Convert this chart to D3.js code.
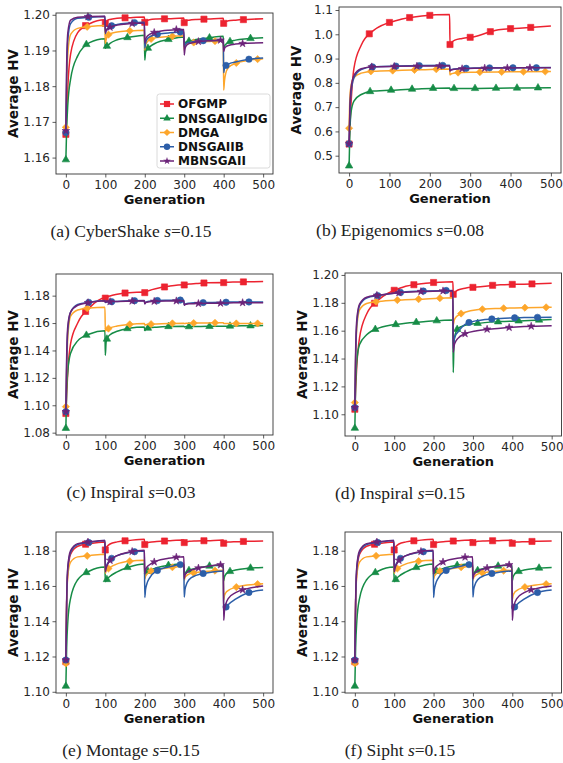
<!DOCTYPE html>
<html>
<head>
<meta charset="utf-8">
<script src="https://cdn.jsdelivr.net/npm/d3@7"></script>
<style>
	body { margin: 0; background: #fff; }
</style>
</head>
<body>
<div class="charts"></div>
<script>
var names = ['OFGMP', 'DNSGAIIgIDG', 'DMGA', 'DNSGAIIB', 'MBNSGAII'];
var colors = ['#ec2330', '#168c46', '#fda62b', '#2c5ea8', '#6b2379'];
var markEvery = [50, 52, 54, 58, 56];
var genTicks = [0, 100, 200, 300, 400, 500];

// generations the curves were read at (environment change every 100 gens)
var gens100 = [0, 2, 5, 12, 30, 60, 99, 100, 102, 105, 112, 130, 160, 199,
	200, 202, 205, 212, 230, 260, 299, 300, 302, 305, 312, 330, 360, 399,
	400, 402, 405, 412, 430, 460, 500];
// one change at gen 250
var gens250 = [0, 2, 5, 12, 30, 60, 120, 180, 249, 250, 252, 255, 262, 280, 310, 370, 430, 500];

// (a) CyberShake s=0.15
var cyberTicks = [1.16, 1.17, 1.18, 1.19, 1.20];
var cyberOFGMP = [1.1665, 1.1720, 1.1800, 1.1890, 1.1950, 1.1975, 1.1986, 1.1976, 1.1980, 1.1984, 1.1987, 1.1990, 1.1992, 1.1994,
	1.1979, 1.1982, 1.1984, 1.1986, 1.1988, 1.1989, 1.1991, 1.1978, 1.1981, 1.1983, 1.1985, 1.1987, 1.1988, 1.1990,
	1.1976, 1.1979, 1.1981, 1.1983, 1.1985, 1.1987, 1.1989];
var cyberGIDG = [1.1594, 1.1680, 1.1750, 1.1820, 1.1885, 1.1922, 1.1933, 1.1906, 1.1910, 1.1913, 1.1920, 1.1930, 1.1937, 1.1943,
	1.1873, 1.1895, 1.1902, 1.1910, 1.1922, 1.1931, 1.1938, 1.1920, 1.1922, 1.1924, 1.1926, 1.1931, 1.1935, 1.1940,
	1.1905, 1.1912, 1.1917, 1.1923, 1.1929, 1.1933, 1.1936];
var cyberDMGA = [1.1685, 1.1800, 1.1890, 1.1945, 1.1962, 1.1967, 1.1970, 1.1920, 1.1930, 1.1940, 1.1947, 1.1952, 1.1955, 1.1957,
	1.1901, 1.1915, 1.1922, 1.1930, 1.1936, 1.1939, 1.1941, 1.1900, 1.1912, 1.1917, 1.1920, 1.1923, 1.1925, 1.1927,
	1.1789, 1.1815, 1.1835, 1.1852, 1.1864, 1.1872, 1.1877];
var cyberB = [1.1670, 1.1830, 1.1930, 1.1975, 1.1990, 1.1993, 1.1995, 1.1947, 1.1955, 1.1961, 1.1967, 1.1973, 1.1977, 1.1979,
	1.1906, 1.1920, 1.1930, 1.1938, 1.1945, 1.1949, 1.1952, 1.1910, 1.1915, 1.1920, 1.1923, 1.1926, 1.1928, 1.1929,
	1.1838, 1.1850, 1.1857, 1.1862, 1.1868, 1.1875, 1.1879];
var cyberMB = [1.1675, 1.1860, 1.1950, 1.1985, 1.1993, 1.1995, 1.1996, 1.1950, 1.1956, 1.1960, 1.1965, 1.1971, 1.1975, 1.1977,
	1.1920, 1.1930, 1.1938, 1.1945, 1.1952, 1.1957, 1.1959, 1.1887, 1.1905, 1.1913, 1.1919, 1.1924, 1.1927, 1.1929,
	1.1897, 1.1905, 1.1910, 1.1914, 1.1918, 1.1920, 1.1922];

// (b) Epigenomics s=0.08
var epiTicks = [0.5, 0.6, 0.7, 0.8, 0.9, 1.0, 1.1];
var epiOFGMP = [0.548, 0.620, 0.720, 0.860, 0.955, 1.015, 1.058, 1.075, 1.081, 0.958, 0.962, 0.968, 0.976, 0.983, 0.990, 1.019, 1.026, 1.034];
var epiGIDG = [0.458, 0.600, 0.680, 0.725, 0.752, 0.766, 0.771, 0.776, 0.779, 0.774, 0.775, 0.776, 0.777, 0.777, 0.777, 0.778, 0.779, 0.780];
var epiDMGA = [0.613, 0.740, 0.790, 0.822, 0.840, 0.848, 0.851, 0.854, 0.857, 0.833, 0.836, 0.838, 0.841, 0.843, 0.844, 0.845, 0.846, 0.847];
var epiB = [0.549, 0.680, 0.760, 0.820, 0.855, 0.866, 0.869, 0.871, 0.872, 0.850, 0.853, 0.855, 0.857, 0.859, 0.861, 0.862, 0.862, 0.863];
var epiMB = [0.549, 0.700, 0.780, 0.830, 0.858, 0.866, 0.868, 0.869, 0.870, 0.849, 0.852, 0.854, 0.856, 0.858, 0.860, 0.861, 0.862, 0.862];

// (c) Inspiral s=0.03
var insp3Ticks = [1.08, 1.10, 1.12, 1.14, 1.16, 1.18];
var insp3OFGMP = [1.0940, 1.1080, 1.1250, 1.1450, 1.1600, 1.1712, 1.1782, 1.1782, 1.1785, 1.1790, 1.1798, 1.1810, 1.1822, 1.1826,
	1.1822, 1.1825, 1.1830, 1.1838, 1.1852, 1.1868, 1.1880, 1.1878, 1.1880, 1.1882, 1.1885, 1.1888, 1.1894, 1.1896,
	1.1895, 1.1896, 1.1897, 1.1898, 1.1899, 1.1901, 1.1903];
var insp3GIDG = [1.0832, 1.1100, 1.1250, 1.1380, 1.1470, 1.1520, 1.1543, 1.1365, 1.1460, 1.1490, 1.1515, 1.1540, 1.1562, 1.1572,
	1.1545, 1.1555, 1.1560, 1.1565, 1.1570, 1.1575, 1.1577, 1.1572, 1.1573, 1.1574, 1.1574, 1.1575, 1.1576, 1.1577,
	1.1576, 1.1577, 1.1577, 1.1578, 1.1579, 1.1580, 1.1582];
var insp3DMGA = [1.0990, 1.1250, 1.1500, 1.1650, 1.1695, 1.1710, 1.1715, 1.1540, 1.1550, 1.1555, 1.1565, 1.1578, 1.1590, 1.1596,
	1.1585, 1.1587, 1.1589, 1.1591, 1.1594, 1.1597, 1.1599, 1.1596, 1.1597, 1.1598, 1.1599, 1.1600, 1.1601, 1.1602,
	1.1597, 1.1597, 1.1597, 1.1597, 1.1597, 1.1597, 1.1597];
var insp3B = [1.0953, 1.1300, 1.1550, 1.1680, 1.1735, 1.1752, 1.1765, 1.1750, 1.1752, 1.1753, 1.1755, 1.1758, 1.1762, 1.1764,
	1.1742, 1.1750, 1.1755, 1.1760, 1.1764, 1.1766, 1.1768, 1.1733, 1.1738, 1.1742, 1.1745, 1.1748, 1.1750, 1.1752,
	1.1750, 1.1751, 1.1752, 1.1753, 1.1754, 1.1754, 1.1754];
var insp3MB = [1.0953, 1.1350, 1.1580, 1.1680, 1.1730, 1.1750, 1.1762, 1.1752, 1.1754, 1.1755, 1.1756, 1.1758, 1.1760, 1.1762,
	1.1740, 1.1748, 1.1752, 1.1756, 1.1759, 1.1761, 1.1762, 1.1730, 1.1734, 1.1737, 1.1740, 1.1742, 1.1744, 1.1745,
	1.1744, 1.1745, 1.1746, 1.1747, 1.1748, 1.1749, 1.1749];

// (d) Inspiral s=0.15
var insp15Ticks = [1.10, 1.12, 1.14, 1.16, 1.18, 1.20];
var insp15OFGMP = [1.1036, 1.1180, 1.1350, 1.1550, 1.1720, 1.1820, 1.1910, 1.1940, 1.1952, 1.1861, 1.1868, 1.1878, 1.1892, 1.1905, 1.1913, 1.1930, 1.1934, 1.1940];
var insp15GIDG = [1.0900, 1.1200, 1.1380, 1.1500, 1.1570, 1.1618, 1.1650, 1.1665, 1.1677, 1.1299, 1.1520, 1.1575, 1.1615, 1.1638, 1.1652, 1.1665, 1.1672, 1.1681];
var insp15DMGA = [1.1084, 1.1400, 1.1620, 1.1750, 1.1795, 1.1810, 1.1821, 1.1828, 1.1836, 1.1640, 1.1670, 1.1690, 1.1710, 1.1732, 1.1750, 1.1760, 1.1765, 1.1768];
var insp15B = [1.1048, 1.1400, 1.1650, 1.1780, 1.1835, 1.1853, 1.1876, 1.1885, 1.1889, 1.1470, 1.1530, 1.1560, 1.1590, 1.1645, 1.1672, 1.1688, 1.1694, 1.1697];
var insp15MB = [1.1048, 1.1450, 1.1680, 1.1790, 1.1840, 1.1855, 1.1874, 1.1882, 1.1886, 1.1445, 1.1490, 1.1515, 1.1545, 1.1578, 1.1600, 1.1618, 1.1630, 1.1636];

// (e) Montage s=0.15 and (f) Sipht s=0.15 (the two plots are the same)
var montTicks = [1.10, 1.12, 1.14, 1.16, 1.18];
var montOFGMP = [1.1170, 1.1500, 1.1680, 1.1780, 1.1825, 1.1840, 1.1850, 1.1804, 1.1815, 1.1825, 1.1838, 1.1850, 1.1858, 1.1865,
	1.1835, 1.1840, 1.1843, 1.1848, 1.1852, 1.1856, 1.1860, 1.1846, 1.1849, 1.1851, 1.1853, 1.1855, 1.1857, 1.1860,
	1.1842, 1.1845, 1.1847, 1.1849, 1.1851, 1.1853, 1.1855];
var montGIDG = [1.1032, 1.1250, 1.1400, 1.1530, 1.1635, 1.1685, 1.1708, 1.1625, 1.1630, 1.1640, 1.1655, 1.1680, 1.1708, 1.1725,
	1.1665, 1.1672, 1.1678, 1.1688, 1.1703, 1.1717, 1.1724, 1.1662, 1.1670, 1.1678, 1.1688, 1.1700, 1.1712, 1.1718,
	1.1628, 1.1650, 1.1665, 1.1678, 1.1690, 1.1700, 1.1705];
var montDMGA = [1.1161, 1.1500, 1.1660, 1.1735, 1.1765, 1.1772, 1.1780, 1.1672, 1.1685, 1.1693, 1.1705, 1.1725, 1.1740, 1.1746,
	1.1640, 1.1655, 1.1665, 1.1680, 1.1693, 1.1703, 1.1712, 1.1632, 1.1648, 1.1657, 1.1667, 1.1676, 1.1683, 1.1689,
	1.1520, 1.1545, 1.1560, 1.1575, 1.1592, 1.1605, 1.1612];
var montB = [1.1180, 1.1500, 1.1700, 1.1790, 1.1835, 1.1847, 1.1858, 1.1690, 1.1710, 1.1725, 1.1748, 1.1772, 1.1789, 1.1798,
	1.1535, 1.1580, 1.1610, 1.1645, 1.1685, 1.1708, 1.1722, 1.1537, 1.1580, 1.1605, 1.1635, 1.1660, 1.1675, 1.1685,
	1.1460, 1.1468, 1.1478, 1.1495, 1.1525, 1.1560, 1.1577];
var montMB = [1.1180, 1.1520, 1.1710, 1.1800, 1.1840, 1.1850, 1.1858, 1.1680, 1.1700, 1.1718, 1.1745, 1.1772, 1.1792, 1.1802,
	1.1668, 1.1690, 1.1705, 1.1720, 1.1742, 1.1757, 1.1766, 1.1642, 1.1660, 1.1672, 1.1685, 1.1698, 1.1712, 1.1720,
	1.1405, 1.1460, 1.1495, 1.1530, 1.1562, 1.1585, 1.1600];

// panel layout: frame [left, top, right, bottom]
var panels = [
	{tag: '(a)', name: 'CyberShake', s: '0.15', box: [56, 13, 273, 174], yDom: [1.1554, 1.2005], ticks: cyberTicks, fmt: '.2f',
		gens: gens100, data: [cyberOFGMP, cyberGIDG, cyberDMGA, cyberB, cyberMB], legend: true, capX: 131},
	{tag: '(b)', name: 'Epigenomics', s: '0.08', box: [339, 7, 561, 173], yDom: [0.4287, 1.1124], ticks: epiTicks, fmt: '.1f',
		gens: gens250, data: [epiOFGMP, epiGIDG, epiDMGA, epiB, epiMB], capX: 400},
	{tag: '(c)', name: 'Inspiral', s: '0.03', box: [56, 274, 273, 435], yDom: [1.0783, 1.1958], ticks: insp3Ticks, fmt: '.2f',
		gens: gens100, data: [insp3OFGMP, insp3GIDG, insp3DMGA, insp3B, insp3MB], capX: 131},
	{tag: '(d)', name: 'Inspiral', s: '0.15', box: [345, 273, 561.5, 436], yDom: [1.0844, 1.2014], ticks: insp15Ticks, fmt: '.2f',
		gens: gens250, data: [insp15OFGMP, insp15GIDG, insp15DMGA, insp15B, insp15MB], capX: 400},
	{tag: '(e)', name: 'Montage', s: '0.15', box: [56, 532, 273, 693], yDom: [1.0993, 1.1906], ticks: montTicks, fmt: '.2f',
		gens: gens100, data: [montOFGMP, montGIDG, montDMGA, montB, montMB], capX: 131},
	{tag: '(f)', name: 'Sipht', s: '0.15', box: [345, 532, 561.5, 693], yDom: [1.0993, 1.1906], ticks: montTicks, fmt: '.2f',
		gens: gens100, data: [montOFGMP, montGIDG, montDMGA, montB, montMB], capX: 400}
];

var symbols = [
	{type: d3.symbolSquare, size: 38, rot: 0},
	{type: d3.symbolTriangle, size: 24, rot: 0},
	{type: d3.symbolSquare, size: 26, rot: 45},
	{type: d3.symbolCircle, size: 32, rot: 0},
	{type: d3.symbolStar, size: 18, rot: 0}
];

var svg = d3.select('.charts')
	.append('svg')
	.attr('width', 563)
	.attr('height', 763);

// find the point of a drawn line at a given x (line x grows along its length)
function pointAtX(node, px) {
	var lo = 0, hi = node.getTotalLength();
	for (var k = 0; k < 40; k++) {
		var mid = (lo + hi) / 2;
		if (node.getPointAtLength(mid).x < px - 0.001) lo = mid;
		else hi = mid;
	}
	return node.getPointAtLength(hi);
}

function drawPanel(p) {
	var x = d3.scaleLinear().domain([-25, 525]).range([p.box[0], p.box[2]]);
	var y = d3.scaleLinear().domain(p.yDom).range([p.box[3], p.box[1]]);
	var g = svg.append('g');

	var line = d3.line()
		.x(function(d) { return x(d[0]); })
		.y(function(d) { return y(d[1]); })
		.curve(d3.curveMonotoneX);

	p.data.forEach(function(vals, i) {
		var pts = p.gens.map(function(gen, j) { return [gen, vals[j]]; });
		var path = g.append('path')
			.datum(pts)
			.attr('d', line)
			.attr('fill', 'none')
			.attr('stroke', colors[i])
			.attr('stroke-width', 1.5)
			.attr('stroke-linejoin', 'round');

		var node = path.node();
		var sym = d3.symbol().type(symbols[i].type).size(symbols[i].size);
		d3.range(0, 500, markEvery[i]).forEach(function(m) {
			var pt = pointAtX(node, x(m));
			g.append('path')
				.attr('d', sym)
				.attr('transform', 'translate(' + pt.x + ',' + pt.y + ') rotate(' + symbols[i].rot + ')')
				.attr('fill', colors[i])
				.attr('stroke', colors[i])
				.attr('stroke-width', 0.6);
		});
	});

	// axes
	var xAxis = g.append('g')
		.attr('transform', 'translate(0,' + p.box[3] + ')')
		.call(d3.axisBottom(x).tickValues(genTicks).tickSize(3.5).tickPadding(2.5));
	var yAxis = g.append('g')
		.attr('transform', 'translate(' + p.box[0] + ',0)')
		.call(d3.axisLeft(y).tickValues(p.ticks).tickFormat(d3.format(p.fmt)).tickSize(3.5).tickPadding(2.5));

	[xAxis, yAxis].forEach(function(ax) {
		ax.select('.domain').remove();
		ax.attr('font-family', 'DejaVu Sans').attr('font-size', 12);
		ax.selectAll('line').attr('stroke', '#333').attr('stroke-width', 0.8);
		ax.selectAll('text').attr('fill', '#262626');
	});

	g.append('rect')
		.attr('x', p.box[0])
		.attr('y', p.box[1])
		.attr('width', p.box[2] - p.box[0])
		.attr('height', p.box[3] - p.box[1])
		.attr('fill', 'none')
		.attr('stroke', '#333')
		.attr('stroke-width', 0.9);

	g.append('text')
		.text('Generation')
		.attr('x', (p.box[0] + p.box[2]) / 2)
		.attr('y', p.box[3] + 30)
		.attr('text-anchor', 'middle')
		.attr('font-family', 'DejaVu Sans')
		.attr('font-weight', 'bold')
		.attr('font-size', 13)
		.attr('fill', '#111');

	var ly = (p.box[1] + p.box[3]) / 2;
	var lx = p.box[0] - 38;
	g.append('text')
		.text('Average HV')
		.attr('transform', 'translate(' + lx + ',' + ly + ') rotate(-90)')
		.attr('text-anchor', 'middle')
		.attr('font-family', 'DejaVu Sans')
		.attr('font-weight', 'bold')
		.attr('font-size', 13.5)
		.attr('fill', '#111');

	// caption
	var cap = g.append('text')
		.attr('x', p.capX)
		.attr('y', p.box[3] + 63)
		.attr('text-anchor', 'middle')
		.attr('font-family', 'Liberation Serif')
		.attr('font-size', 17.5)
		.attr('fill', '#222');
	cap.append('tspan').text(p.tag + ' ' + p.name + ' ');
	cap.append('tspan').text('s').attr('font-style', 'italic');
	cap.append('tspan').text('=' + p.s);

	if (p.legend) drawLegend(g);
}

function drawLegend(g) {
	var lg = g.append('g');
	lg.append('rect')
		.attr('x', 157)
		.attr('y', 94)
		.attr('width', 113)
		.attr('height', 74)
		.attr('rx', 2.5)
		.attr('fill', '#fff')
		.attr('fill-opacity', 0.85)
		.attr('stroke', '#d0d0d0')
		.attr('stroke-width', 0.8);

	names.forEach(function(name, i) {
		var ry = 104 + i * 14.25;
		lg.append('line')
			.attr('x1', 160).attr('x2', 174)
			.attr('y1', ry).attr('y2', ry)
			.attr('stroke', colors[i])
			.attr('stroke-width', 1.5);
		lg.append('path')
			.attr('d', d3.symbol().type(symbols[i].type).size(symbols[i].size))
			.attr('transform', 'translate(167,' + ry + ') rotate(' + symbols[i].rot + ')')
			.attr('fill', colors[i]);
		lg.append('text')
			.text(name)
			.attr('x', 178)
			.attr('y', ry)
			.attr('dy', '0.36em')
			.attr('font-family', 'DejaVu Sans')
			.attr('font-weight', 'bold')
			.attr('font-size', 12)
			.attr('fill', '#111');
	});
}

panels.forEach(drawPanel);
</script>
</body>
</html>
